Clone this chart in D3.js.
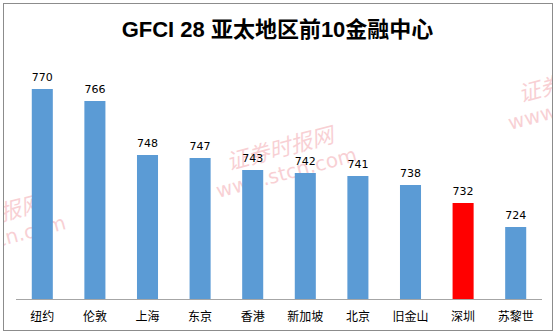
<!DOCTYPE html>
<html>
<head>
<meta charset="utf-8">
<script src="https://cdn.jsdelivr.net/npm/d3@7"></script>
<style>
  body { margin: 0; background: #fff; }
  svg { display: block; }
</style>
</head>
<body>
<script>
var cities = ['纽约', '伦敦', '上海', '东京', '香港', '新加坡', '北京', '旧金山', '深圳', '苏黎世'];
var scores = [770, 766, 748, 747, 743, 742, 741, 738, 732, 724];
var highlight = ['深圳'];
var titleText = 'GFCI 28 亚太地区前10金融中心';

const WIDTH = 559;
const HEIGHT = 334;
const PLOT_LEFT = 16;
const PLOT_RIGHT = 542;
const PLOT_TOP = 59;
const PLOT_BOTTOM = 299;

var xScale = d3.scaleBand()
  .domain(cities)
  .range([PLOT_LEFT, PLOT_RIGHT])
  .paddingInner(0.6)
  .paddingOuter(0.3);

var yScale = d3.scaleLinear()
  .domain([700, 780])
  .range([PLOT_BOTTOM, PLOT_TOP]);

var svg = d3.select('body').append('svg')
  .attr('width', WIDTH)
  .attr('height', HEIGHT);

svg.append('clipPath').attr('id', 'frame')
  .append('rect').attr('x', 4).attr('y', 4).attr('width', 548).attr('height', 326);

// outer frame
svg.append('rect')
  .attr('x', 3.5).attr('y', 3.5)
  .attr('width', 549).attr('height', 327)
  .attr('fill', '#fff')
  .attr('stroke', '#8c8c8c');

svg.append('text')
  .attr('x', WIDTH / 2 - 2)
  .attr('y', 37)
  .attr('text-anchor', 'middle')
  .attr('font-family', 'Liberation Sans, Noto Sans CJK SC, sans-serif')
  .attr('font-weight', 'bold')
  .attr('font-size', 22)
  .attr('fill', '#000')
  .text(titleText);

// watermarks
var marks = [[283, 160], [575, 92], [-8, 228]];
var wm = svg.append('g').attr('clip-path', 'url(#frame)');
marks.forEach(function(p) {
  var g = wm.append('g')
    .attr('transform', 'translate(' + p[0] + ',' + p[1] + ') rotate(-15)')
    .attr('fill', '#f08c96')
    .attr('opacity', 0.4)
    .attr('font-family', 'Noto Sans CJK SC, sans-serif')
    .attr('text-anchor', 'middle');
  g.append('text').attr('y', -4).attr('font-size', 22).attr('font-style', 'italic').text('证券时报网');
  g.append('text').attr('y', 20).attr('font-size', 20).attr('font-family', 'DejaVu Sans, sans-serif').text('www.stcn.com');
});

svg.append('g')
  .selectAll('rect')
  .data(scores)
  .enter()
  .append('rect')
  .attr('x', function(d, i) { return xScale(cities[i]); })
  .attr('y', function(d) { return yScale(d); })
  .attr('width', xScale.bandwidth())
  .attr('height', function(d) { return PLOT_BOTTOM - yScale(d); })
  .attr('fill', function(d, i) { return highlight.indexOf(cities[i]) >= 0 ? '#ff0000' : '#5b9bd5'; });

svg.append('g')
  .selectAll('text')
  .data(scores)
  .enter()
  .append('text')
  .attr('x', function(d, i) { return xScale(cities[i]) + xScale.bandwidth() / 2; })
  .attr('y', function(d) { return yScale(d) - 8; })
  .attr('text-anchor', 'middle')
  .attr('font-family', 'DejaVu Sans, sans-serif')
  .attr('font-size', 11)
  .attr('fill', '#000')
  .text(function(d) { return d; });

var xAxis = d3.axisBottom(xScale).tickSize(0).tickPadding(13);
var axisG = svg.append('g')
  .attr('transform', 'translate(0,' + (PLOT_BOTTOM + 0.5) + ')')
  .call(xAxis);
axisG.select('.domain').attr('stroke', '#a6a6a6').attr('d', 'M' + PLOT_LEFT + ',0H' + PLOT_RIGHT);
axisG.selectAll('text')
  .attr('font-family', 'Noto Sans CJK SC, sans-serif')
  .attr('font-size', 12)
  .attr('fill', '#000');
</script>
</body>
</html>
